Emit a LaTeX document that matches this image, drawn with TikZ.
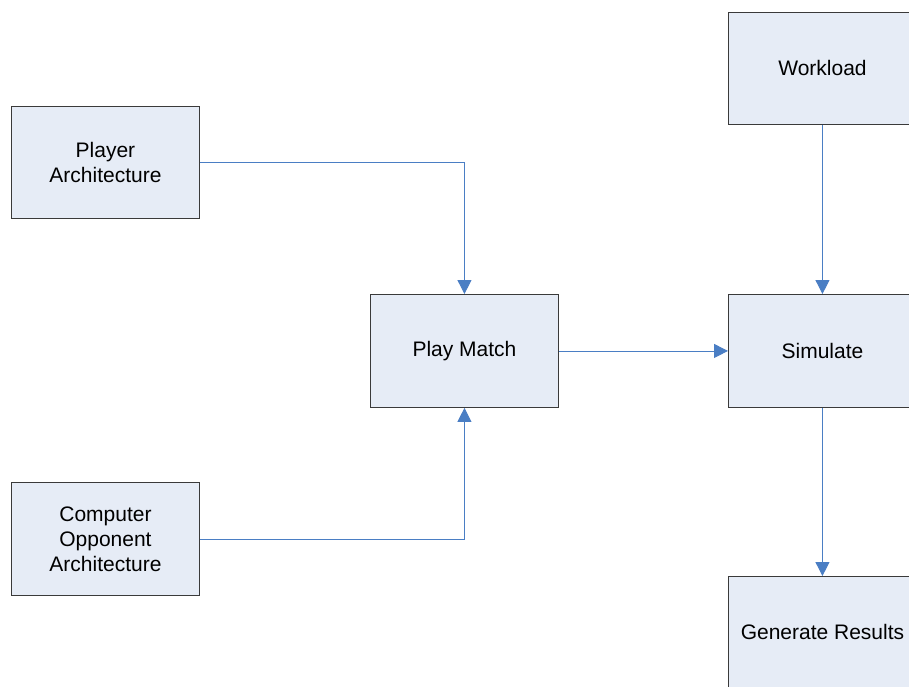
\documentclass[tikz,border=0pt]{standalone}
\usepackage{fontspec}
\setmainfont{Liberation Sans}
\usetikzlibrary{arrows.meta}
\definecolor{boxfill}{HTML}{E6ECF6}
\definecolor{boxline}{HTML}{3A3A3A}
\definecolor{flow}{HTML}{4A7EC4}
\begin{document}
\begin{tikzpicture}[x=1pt,y=-1pt,
  stage/.style={draw=boxline,fill=boxfill,line width=0.9pt,minimum width=188pt,minimum height=112pt,
    inner sep=0pt,align=center,font=\fontsize{21}{25}\selectfont,anchor=north west},
  link/.style={draw=flow,line width=0.9pt,-{Triangle[length=14pt,width=14pt]}}]
\useasboundingbox (0,0) rectangle (909,687);
\clip (0,0) rectangle (909,687);
\fill[white] (0,0) rectangle (909,687);
% input boxes
\node[stage] (player) at (11,106) {Player\\Architecture};
\node[stage,minimum height=113pt] (cpu) at (11,482) {Computer\\Opponent\\Architecture};
\node[stage,minimum height=113pt] (match) at (370,294) {Play Match};
% right column
\node[stage] (work) at (728,12) {Workload};
\node[stage,minimum height=113pt] (sim) at (728,294) {Simulate};
\node[stage] (gen) at (728,576) {Generate Results};
% connectors
\draw[link] (player.east) -| (match.north);
\draw[link] (cpu.east) -| (match.south);
\draw[link] (match.east) -- (sim.west);
\draw[link] (work.south) -- (sim.north);
\draw[link] (sim.south) -- (gen.north);
\end{tikzpicture}
\end{document}
